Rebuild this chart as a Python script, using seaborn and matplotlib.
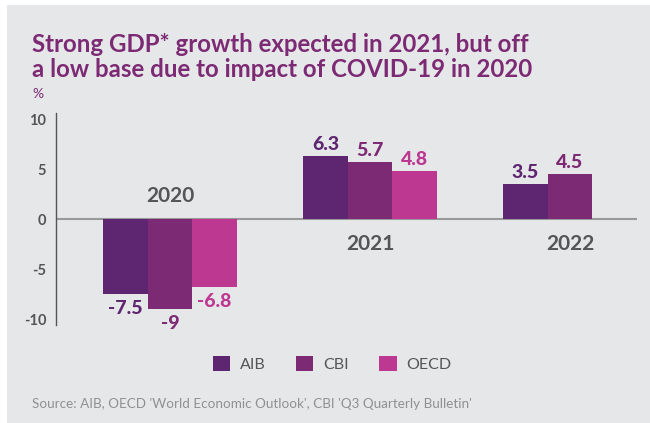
import matplotlib
matplotlib.use("Agg")
import matplotlib.pyplot as plt
from matplotlib.patches import Rectangle
import seaborn as sns
import pandas as pd
import numpy as np

years = ["2020", "2021", "2022"]
sources = ["AIB", "CBI", "OECD"]
aib = [-7.5, 6.3, 3.5]
cbi = [-9.0, 5.7, 4.5]
oecd = [-6.8, 4.8, np.nan]
value_labels = {"AIB": ["-7.5", "6.3", "3.5"], "CBI": ["-9", "5.7", "4.5"], "OECD": ["-6.8", "4.8", ""]}
yticks = [-10, -5, 0, 5, 10]
colors = ["#5e2670", "#7d2a74", "#bd3891"]
title = "Strong GDP* growth expected in 2021, but off\na low base due to impact of COVID-19 in 2020"
source_note = "Source: AIB, OECD 'World Economic Outlook', CBI 'Q3 Quarterly Bulletin'"

rows = []
for s, vals in zip(sources, [aib, cbi, oecd]):
    for y, v in zip(years, vals):
        rows.append({"year": y, "source": s, "value": v})
df = pd.DataFrame(rows)

sns.set_theme(style="white")
plt.rcParams["font.family"] = ["Lato", "DejaVu Sans"]

fig = plt.figure(figsize=(6.5, 4.23), dpi=100)
fig.patch.set_facecolor("white")
fig.patches.append(Rectangle((7/650, 0), 1 - 7/650, 1 - 5/423, transform=fig.transFigure,
                             facecolor="#e6e7e9", edgecolor="none", zorder=-10))
ax = fig.add_axes([56/650, 1 - 325/423, (637 - 56)/650, (325 - 113)/423])
ax.set_facecolor("none")

sns.barplot(data=df, x="year", y="value", hue="source", order=years, hue_order=sources,
            palette=colors, width=0.67, gap=0, saturation=1, ax=ax, errorbar=None,
            linewidth=0, edgecolor="none")

ax.set_xlim(-0.57, 2.335)
ax.set_ylim(-10.6, 10.6)
ax.set_yticks(yticks)
ax.set_yticklabels([str(t) for t in yticks], fontsize=10.5, fontweight="bold", color="#555555")
ax.tick_params(axis="y", length=0, pad=7)
ax.set_xticks([])
ax.set_xlabel("")
ax.set_ylabel("")
for side in ["top", "right", "bottom"]:
    ax.spines[side].set_visible(False)
ax.spines["left"].set_color("#555555")
ax.spines["left"].set_linewidth(1.0)
ax.axhline(0, color="#999999", linewidth=1.5, zorder=0.5)

for cont, s, c in zip(ax.containers, sources, colors):
    for bar, lab in zip(cont, value_labels[s]):
        if bar is None or not lab:
            continue
        h = bar.get_height()
        if not np.isfinite(h):
            continue
        xc = bar.get_x() + bar.get_width() / 2
        if h >= 0:
            ax.annotate(lab, (xc, h), xytext=(0, 2), textcoords="offset points", ha="center", va="bottom",
                        fontsize=14, fontweight=900, color=c)
        else:
            ax.annotate(lab, (xc, h), xytext=(0, -4), textcoords="offset points", ha="center", va="top",
                        fontsize=14, fontweight=900, color=c)

for i, y in enumerate(years):
    vals = df[df.year == y]["value"].dropna()
    if vals.min() < 0:
        ax.text(i, 1.3, y, ha="center", va="bottom", fontsize=15, fontweight="bold", color="#555555")
    else:
        ax.text(i, -1.5, y, ha="center", va="top", fontsize=15, fontweight="bold", color="#555555")

sns.move_legend(ax, "center", bbox_to_anchor=(332/650, 1 - 364/423), bbox_transform=fig.transFigure,
                ncol=3, frameon=False, title=None, fontsize=11.5, handlelength=1.1, handleheight=1.1,
                handletextpad=0.6, columnspacing=1.9)
for t in ax.get_legend().get_texts():
    t.set_color("#555555")

fig.text(32/650, 1 - 57/423, title, fontsize=17.3, fontweight="bold", color="#7d2a74",
         ha="left", va="center", linespacing=1.1)
fig.text(32/650, 1 - 94/423, "%", fontsize=10, color="#7d2a74", ha="left", va="center")
fig.text(32/650, 1 - 404/423, source_note, fontsize=9.7, fontweight="normal", color="#909090",
         ha="left", va="center")

fig.savefig("out.png", dpi=100, facecolor=fig.get_facecolor())
